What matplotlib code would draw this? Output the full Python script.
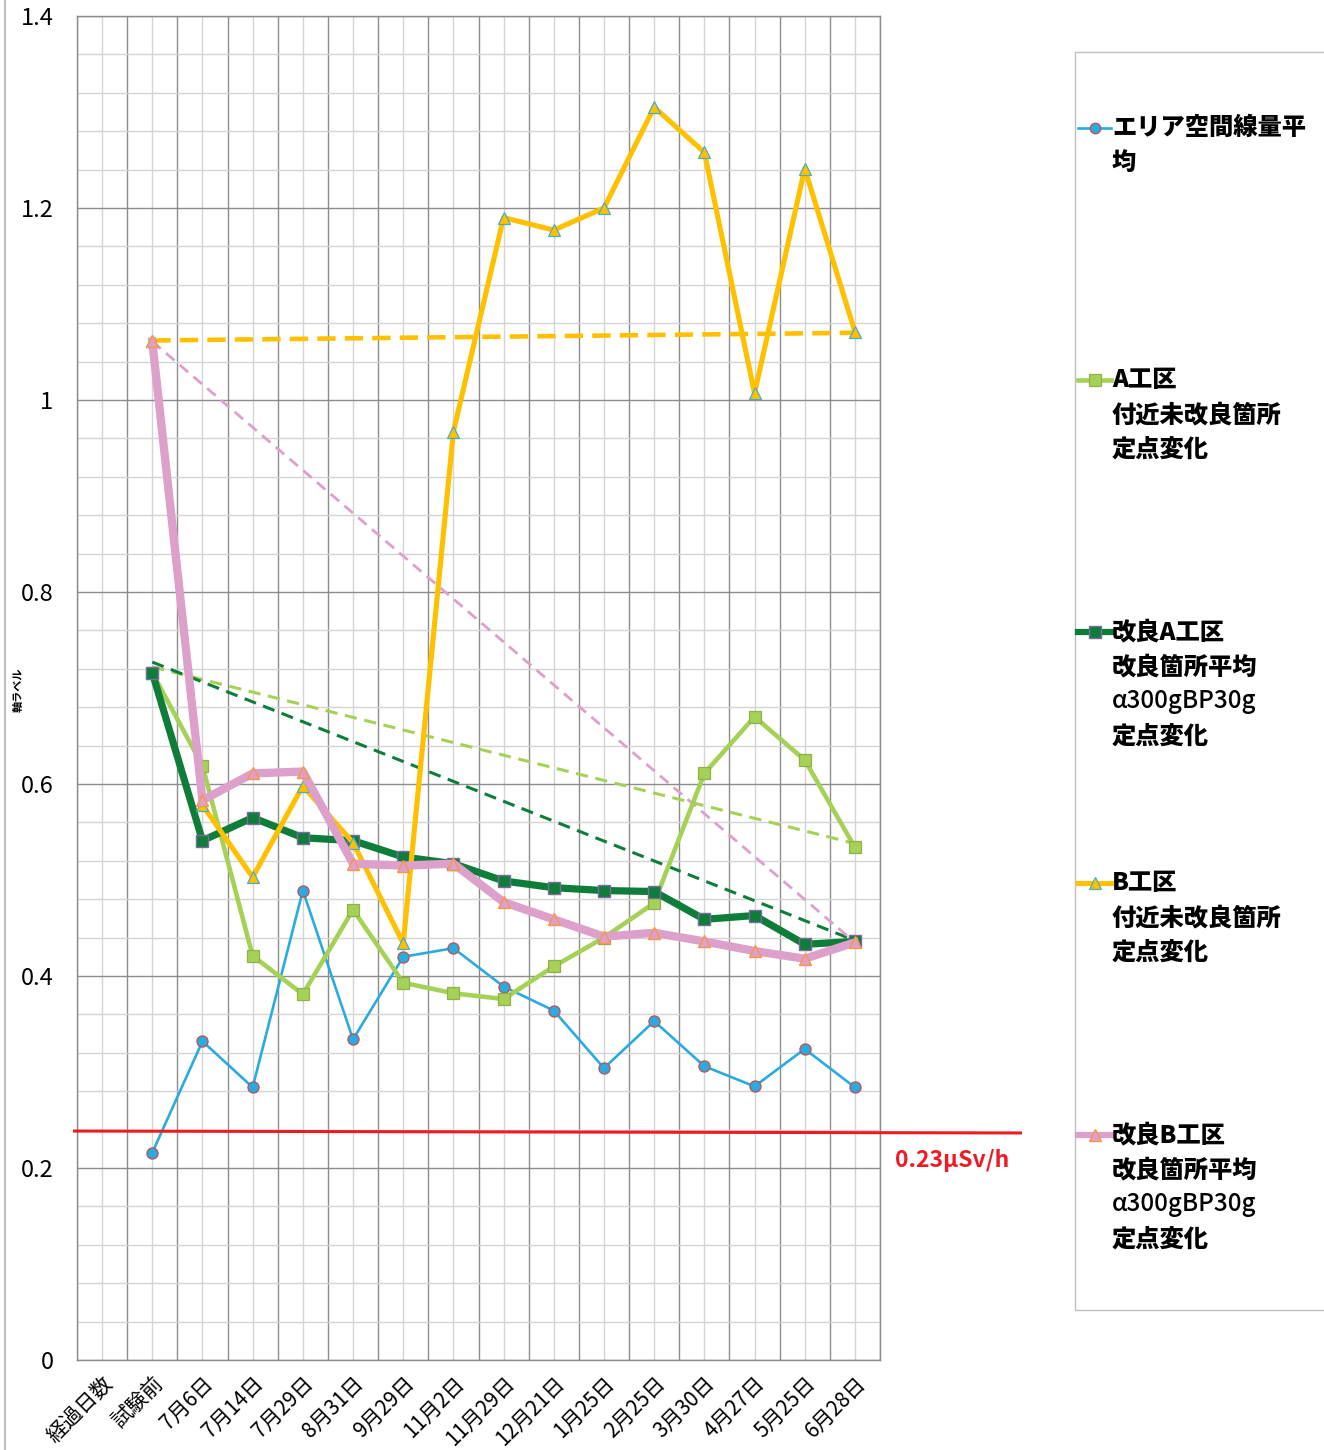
import numpy as np
import matplotlib.pyplot as plt
from matplotlib.lines import Line2D
from matplotlib.patches import Rectangle
from matplotlib.ticker import MultipleLocator, FixedLocator

plt.rcParams['font.family'] = ['Noto Sans CJK JP', 'DejaVu Sans']

# カテゴリ (経過日数)
fechas = ['経過日数', '試験前', '7月6日', '7月14日', '7月29日', '8月31日', '9月29日',
          '11月2日', '11月29日', '12月21日', '1月25日', '2月25日', '3月30日',
          '4月27日', '5月25日', '6月28日']

# 系列の値 (試験前〜6月28日)
area_promedio = [0.216, 0.332, 0.284, 0.489, 0.334, 0.420, 0.429, 0.389, 0.364,
                 0.304, 0.353, 0.306, 0.285, 0.324, 0.284]
a_sin_mejora = [0.716, 0.619, 0.421, 0.381, 0.469, 0.393, 0.382, 0.376, 0.410,
                0.440, 0.476, 0.611, 0.670, 0.625, 0.534]
a_mejorado = [0.716, 0.541, 0.565, 0.544, 0.541, 0.524, 0.517, 0.499, 0.492,
              0.489, 0.488, 0.459, 0.463, 0.433, 0.436]
b_sin_mejora = [1.061, 0.578, 0.503, 0.598, 0.539, 0.434, 0.967, 1.190, 1.177,
                1.200, 1.305, 1.258, 1.007, 1.241, 1.071]
b_mejorado = [1.061, 0.583, 0.611, 0.613, 0.517, 0.515, 0.517, 0.477, 0.459,
              0.441, 0.445, 0.436, 0.426, 0.418, 0.435]

# 近似線 (始点, 終点)
tend_a_sin = [0.722, 0.538]
tend_a_mej = [0.727, 0.437]
tend_b_sin = [1.062, 1.070]
tend_b_mej = [1.061, 0.435]

etiquetas = ['エリア空間線量平\n均',
             'A工区\n付近未改良箇所\n定点変化',
             '改良A工区\n改良箇所平均\nα300gBP30g\n定点変化',
             'B工区\n付近未改良箇所\n定点変化',
             '改良B工区\n改良箇所平均\nα300gBP30g\n定点変化']

# 基準線 0.23μSv/h
umbral_x = [-0.55, 18.3]
umbral_y = [0.2385, 0.2365]

W, H = 1324, 1450
fig = plt.figure(figsize=(W / 100, H / 100), dpi=100)
ax = fig.add_axes([77 / W, 90 / H, 803 / W, 1344 / H])

x = np.arange(1, len(fechas))
xt = [1, len(fechas) - 1]

# 近似線
ax.plot(xt, tend_a_sin, ls=(0, (4, 2.5)), color='#A6D157', lw=2.2, zorder=2)
ax.plot(xt, tend_a_mej, ls=(0, (4, 2.5)), color='#0E7D3A', lw=2.2, zorder=2)
ax.plot(xt, tend_b_sin, ls=(0, (4, 2)), color='#FFC000', lw=3.3, zorder=2)
ax.plot(xt, tend_b_mej, ls=(0, (4, 2.5)), color='#DDA0CB', lw=2, zorder=2)

estilos = [
    dict(color='#29ABE2', lw=1.9, marker='o', ms=8, mfc='#29ABE2', mec='#C0504D', mew=0.9),
    dict(color='#A6D157', lw=3.3, marker='s', ms=8.5, mfc='#A6D157', mec='#8FB04A', mew=0.9),
    dict(color='#0E7D3A', lw=5.2, marker='s', ms=9, mfc='#0E7D3A', mec='#7A6A9E', mew=1),
    dict(color='#FFC000', lw=3.7, marker='^', ms=8.5, mfc='#FFC000', mec='#4BACC6', mew=0.9),
    dict(color='#DDA0CB', lw=6, marker='^', ms=9, mfc='#DDA0CB', mec='#F79646', mew=1),
]
series = [area_promedio, a_sin_mejora, a_mejorado, b_sin_mejora, b_mejorado]
for i, (s, st) in enumerate(zip(series, estilos)):
    ax.plot(x, s, zorder=3 + i, **st)

# 基準線
ax.plot(umbral_x, umbral_y, color='#ED1C24', lw=2.2, clip_on=False, zorder=10)
fig.text(895 / W, 1 - 1161 / H, '0.23μSv/h', color='#ED1C24', fontsize=16.5,
         fontweight='bold', va='center', ha='left')

# 軸
ax.set_xlim(-0.5, len(fechas) - 0.5)
ax.set_ylim(0, 1.4)
ax.set_xticks(np.arange(len(fechas)))
ax.set_xticklabels(fechas, rotation=45, ha='right', va='top',
                   rotation_mode='anchor', fontsize=15)
ax.xaxis.set_minor_locator(FixedLocator(np.arange(-0.5, len(fechas), 1)))
ax.yaxis.set_minor_locator(MultipleLocator(0.04))
ax.set_yticks(np.arange(0, 1.41, 0.2))
ax.set_yticklabels(['0', '0.2', '0.4', '0.6', '0.8', '1', '1.2', '1.4'], fontsize=17)
ax.tick_params(axis='both', which='both', length=0)
ax.tick_params(axis='y', pad=17)
ax.tick_params(axis='x', pad=9)

ax.grid(True, axis='y', which='major', color='#8C8C8C', lw=1)
ax.grid(True, axis='y', which='minor', color='#D4D4D4', lw=1)
ax.grid(True, axis='x', which='minor', color='#8C8C8C', lw=1)
ax.grid(True, axis='x', which='major', color='#D4D4D4', lw=1)
ax.set_axisbelow(True)
for sp in ax.spines.values():
    sp.set_color('#8C8C8C')
    sp.set_linewidth(1)

fig.text(18 / W, 1 - 690 / H, '軸ラベル', rotation=90, fontsize=8,
         fontweight='bold', ha='center', va='center')

# 左の枠線
fig.add_artist(Line2D([5 / W, 5 / W], [0, 1], color='#BFBFBF', lw=1.5))

# 凡例
fig.add_artist(Rectangle((1075 / W, 1 - 1310 / H), 260 / W, 1258 / H,
                         transform=fig.transFigure, fill=False,
                         edgecolor='#BFBFBF', lw=1))
y0 = [128, 380, 632, 883, 1135]
for yy, lab, st in zip(y0, etiquetas, estilos):
    yf = 1 - yy / H
    fig.add_artist(Line2D([1078 / W, 1095 / W, 1111 / W], [yf, yf, yf],
                          transform=fig.transFigure,
                          color=st['color'], lw=min(st['lw'], 4.5), marker=st['marker'],
                          markevery=[1], ms=st['ms'] * 0.95, mfc=st['mfc'],
                          mec=st['mec'], mew=st['mew']))
    for k, linea in enumerate(lab.split('\n')):
        peso = 'medium' if linea.startswith('α') else 'black'
        fig.text(1112 / W, 1 - (yy + 34.7 * k) / H, linea, fontsize=17.5,
                 fontweight=peso, ha='left', va='center')

fig.savefig('out.png', dpi=100)
